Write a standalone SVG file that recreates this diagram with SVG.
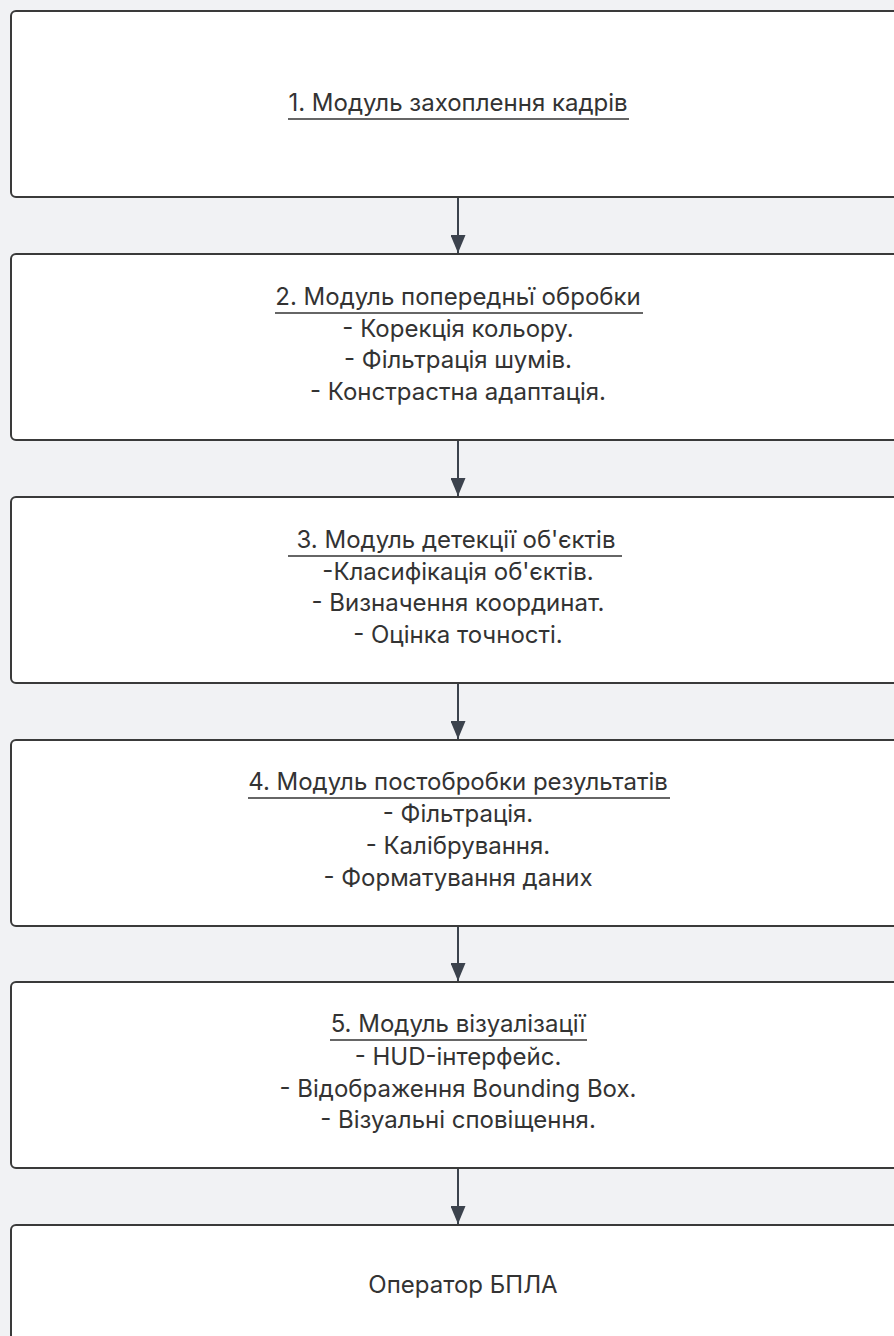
<svg xmlns="http://www.w3.org/2000/svg" width="894" height="1336" viewBox="0 0 894 1336">
  <style>
    .box { fill: #ffffff; stroke: #3a3a3a; stroke-width: 2; }
    .t { font-family: Inter, "Liberation Sans", Arial, sans-serif; font-size: 24px; fill: #333333; text-anchor: middle; }
    .ul { stroke: #333333; stroke-width: 1.5; }
    .edge { stroke: #3c434d; stroke-width: 2; fill: none; marker-end: url(#arrow); }
  </style>
  <defs>
    <marker id="arrow" viewBox="0 0 18 15" refX="18" refY="7.5" markerWidth="18" markerHeight="15" markerUnits="userSpaceOnUse" orient="auto">
      <path d="M0,0 L18,7.5 L0,15 Z" fill="#3c434d"/>
    </marker>
  </defs>
  <rect x="0" y="0" width="894" height="1336" fill="#f1f2f4"/>

  <g id="connectors">
    <line class="edge" x1="458" y1="198" x2="458" y2="253"/>
    <line class="edge" x1="458" y1="441" x2="458" y2="496"/>
    <line class="edge" x1="458" y1="684" x2="458" y2="739"/>
    <line class="edge" x1="458" y1="927" x2="458" y2="981"/>
    <line class="edge" x1="458" y1="1169" x2="458" y2="1224"/>
  </g>

  <g id="node1">
    <rect class="box" x="11" y="11" width="900" height="186" rx="5"/>
    <text class="t" x="458" y="111">1. Модуль захоплення кадрів</text>
    <line class="ul" x1="288" y1="119" x2="629" y2="119"/>
  </g>

  <g id="node2">
    <rect class="box" x="11" y="254" width="900" height="186" rx="5"/>
    <text class="t" x="458" y="305">2. Модуль попередньї обробки</text>
    <line class="ul" x1="275" y1="313" x2="643" y2="313"/>
    <text class="t" x="458" y="337">- Корекція кольору.</text>
    <text class="t" x="458" y="368">- Фільтрація шумів.</text>
    <text class="t" x="458" y="400">- Констрастна адаптація.</text>
  </g>

  <g id="node3">
    <rect class="box" x="11" y="497" width="900" height="186" rx="5"/>
    <text class="t" x="456" y="548">3. Модуль детекції об'єктів</text>
    <line class="ul" x1="288" y1="556" x2="622" y2="556"/>
    <text class="t" x="458" y="580">-Класифікація об'єктів.</text>
    <text class="t" x="458" y="611">- Визначення координат.</text>
    <text class="t" x="458" y="643">- Оцінка точності.</text>
  </g>

  <g id="node4">
    <rect class="box" x="11" y="740" width="900" height="186" rx="5"/>
    <text class="t" x="458" y="790">4. Модуль постобробки результатів</text>
    <line class="ul" x1="248" y1="798" x2="670" y2="798"/>
    <text class="t" x="458" y="822">- Фільтрація.</text>
    <text class="t" x="458" y="854">- Калібрування.</text>
    <text class="t" x="458" y="886">- Форматування даних</text>
  </g>

  <g id="node5">
    <rect class="box" x="11" y="982" width="900" height="186" rx="5"/>
    <text class="t" x="458" y="1032">5. Модуль візуалізації</text>
    <line class="ul" x1="330" y1="1040" x2="587" y2="1040"/>
    <text class="t" x="458" y="1065">- HUD-інтерфейс.</text>
    <text class="t" x="458" y="1097">- Відображення Bounding Box.</text>
    <text class="t" x="458" y="1128">- Візуальні сповіщення.</text>
  </g>

  <g id="node6">
    <rect class="box" x="11" y="1225" width="900" height="186" rx="5"/>
    <text class="t" x="463" y="1293">Оператор БПЛА</text>
  </g>
</svg>
